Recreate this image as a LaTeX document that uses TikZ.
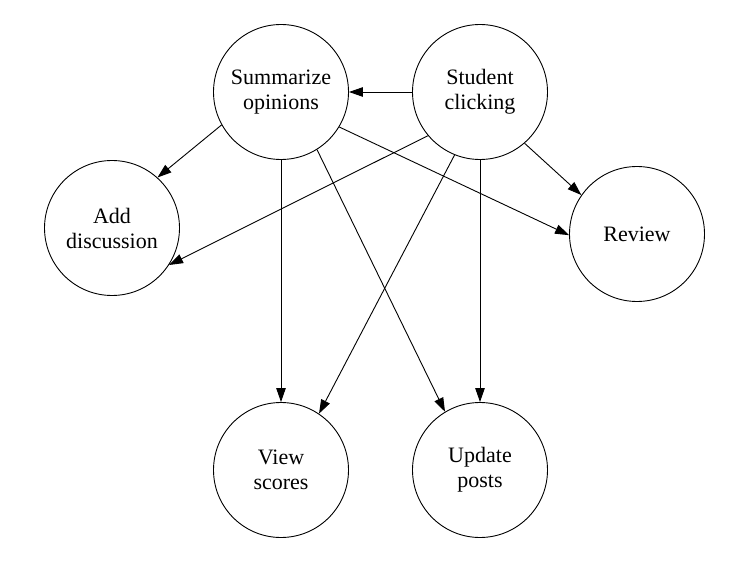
\documentclass[tikz,border=0pt]{standalone}
\usepackage{fontspec}
\setmainfont{Liberation Serif}
\usetikzlibrary{arrows.meta}
\begin{document}
\begin{tikzpicture}[x=1pt,y=-1pt,
  state/.style={circle,draw,line width=0.9pt,minimum size=135pt,inner sep=0pt,align=center,font=\fontsize{22}{25}\selectfont},
  edge/.style={line width=0.9pt,-{Triangle[length=14pt,width=9.5pt]}}]
\useasboundingbox (0,0) rectangle (739,564);
\node[state] (sum) at (281,92) {Summarize\\opinions};
\node[state] (stu) at (480,92) {Student\\clicking};
\node[state] (add) at (112,228) {Add\\discussion};
\node[state] (rev) at (637,234) {Review};
\node[state] (view) at (281,470) {View\\scores};
\node[state] (upd) at (480,470) {Update\\posts};
\draw[edge] (stu.west) -- (sum.east);
\draw[edge] (sum.-151) -- (add.48);
\draw[edge] (sum.-31.5) -- (rev.181);
\draw[edge] (sum.south) -- (view.north);
\draw[edge] (sum.-58.4) -- (upd.121);
\draw[edge] (stu.220) -- (add.-33);
\draw[edge] (stu.-49) -- (rev.145);
\draw[edge] (stu.-112) -- (view.56);
\draw[edge] (stu.south) -- (upd.north);
\end{tikzpicture}
\end{document}
